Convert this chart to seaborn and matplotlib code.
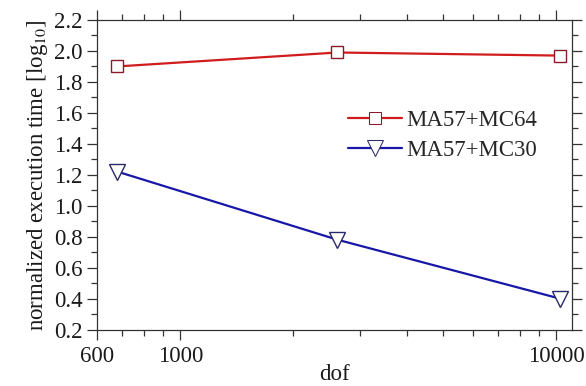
import seaborn as sns
import matplotlib.pyplot as plt
import matplotlib.ticker as mticker
import pandas as pd

# values
dof = [680, 2620, 10230]
mc64 = [1.90, 1.99, 1.97]
mc30 = [1.22, 0.78, 0.40]
series_names = ['MA57+MC64', 'MA57+MC30']

df = pd.DataFrame({
    'dof': dof * 2,
    'time': mc64 + mc30,
    'solver': [series_names[0]] * 3 + [series_names[1]] * 3,
})

sns.set_style('ticks')
plt.rcParams['font.family'] = ['Liberation Serif', 'DejaVu Serif']
plt.rcParams['mathtext.fontset'] = 'stix'

fig = plt.figure(figsize=(5.86, 3.86), dpi=100)
ax = fig.add_axes([97 / 586, 1 - 329.5 / 386, 475 / 586, 309.5 / 386])

palette = {series_names[0]: '#d01c1c', series_names[1]: '#1818a8'}
markers = {series_names[0]: 's', series_names[1]: 'v'}
edges = {series_names[0]: '#8a1a2a', series_names[1]: '#2a2a6a'}
msizes = {series_names[0]: 8.5, series_names[1]: 12}

sns.lineplot(data=df, x='dof', y='time', hue='solver', style='solver',
             palette=palette, markers=markers, dashes=False,
             markersize=10, markerfacecolor='white', linewidth=1.6, ax=ax)

for line, name in zip(ax.get_lines()[:2], series_names):
    line.set_markeredgecolor(edges[name])
    line.set_markeredgewidth(1.0)
    line.set_markersize(msizes[name])

ax.set_xscale('log')
ax.set_xlim(600, 11030)
ax.set_ylim(0.2, 2.2)
ax.xaxis.set_major_locator(mticker.FixedLocator([600, 1000, 10000]))
ax.xaxis.set_major_formatter(mticker.FixedFormatter(['600', '1000', '10000']))
ax.xaxis.set_minor_locator(mticker.FixedLocator(
    [700, 800, 900, 2000, 3000, 4000, 5000, 6000, 7000, 8000, 9000]))
ax.xaxis.set_minor_formatter(mticker.NullFormatter())
ax.yaxis.set_major_locator(mticker.MultipleLocator(0.2))
ax.yaxis.set_minor_locator(mticker.MultipleLocator(0.1))
ax.yaxis.set_major_formatter(mticker.FormatStrFormatter('%.1f'))

ax.tick_params(which='both', direction='out', top=True, right=True,
               labelsize=16.5, colors='#333333', labelcolor='#1a1a1a')
ax.tick_params(which='major', length=7, width=0.9, pad=3.5)
ax.tick_params(which='minor', length=4.5, width=0.9)
ax.tick_params(axis='x', which='major', pad=5)
for sp in ax.spines.values():
    sp.set_color('#333333')
    sp.set_linewidth(0.9)

ax.set_xlabel('dof', fontsize=16.5, labelpad=-2.5, color='#1a1a1a')
ax.set_ylabel('normalized execution time [log$_{10}$]', fontsize=16.5,
              labelpad=3, color='#1a1a1a')

handles, labels = ax.get_legend_handles_labels()
leg = ax.legend(handles, labels, loc='upper left', bbox_to_anchor=(0.528, 0.709),
                frameon=False, fontsize=16.5, handlelength=2.35, handletextpad=0.2,
                labelspacing=0.37, borderaxespad=0, borderpad=0)
for h, name in zip(leg.legend_handles, series_names):
    h.set_markerfacecolor('white')
    h.set_markeredgecolor(edges[name])
    h.set_markersize(msizes[name])

fig.savefig('out.png', dpi=100)
